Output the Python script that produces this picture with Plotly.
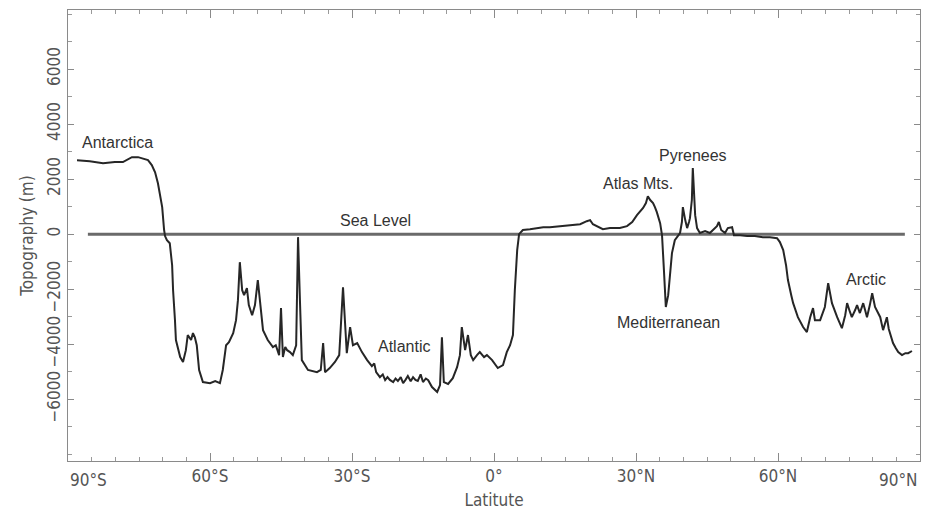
import plotly.graph_objects as go

# Topographic transect (latitude in degrees, negative = south; elevation in m)
lat = [-88.1, -85.4, -82.6, -80.1, -78.4, -76.5, -75.2, -74.2, -73.1, -72.3, -71.6, -71.0, -70.6, -70.1,
       -69.7, -69.5, -69.1, -68.5, -68.0, -67.8, -67.4, -67.2, -66.3, -65.7, -65.1, -64.7, -64.0, -63.6,
       -63.2, -62.8, -62.3, -61.5, -60.0, -58.9, -57.9, -57.3, -56.6, -56.0, -55.1, -54.5, -54.1, -53.7,
       -53.2, -52.8, -52.2, -51.8, -51.1, -50.5, -49.9, -49.4, -48.8, -47.8, -46.7, -46.1, -45.4, -45.0,
       -44.6, -44.1, -43.7, -43.1, -42.5, -41.8, -41.4, -41.0, -40.6, -39.3, -37.4, -36.6, -36.1, -35.7, -34.7,
       -33.6, -32.7, -31.9, -31.3, -31.1, -30.4, -29.8, -28.9, -27.9, -26.8, -25.8, -25.3, -24.9, -24.1, -23.5,
       -23.0, -22.5, -22.0, -21.3, -20.8, -20.3, -19.7, -19.2, -18.7, -18.2, -17.6, -17.1, -16.6, -16.1,
       -15.5, -15.0, -14.4, -13.9, -13.1, -12.0, -11.4, -11.0, -10.6,
       -9.7, -8.7, -7.8, -7.2, -6.8, -6.1, -5.5, -4.9, -4.4, -3.6, -3.0, -2.1, -1.5, -0.4, 0.4, 0.8, 1.9,
       2.7, 3.4, 4.0, 4.4, 4.9, 5.3, 6.1, 7.6, 9.1, 10.4, 11.8, 13.9, 16.1, 18.2, 19.6, 20.3, 20.9, 22.0,
       23.0, 24.5, 26.6, 28.1, 29.2, 30.2, 30.8, 31.5, 32.1, 32.5, 33.0, 33.6, 34.0, 34.4, 35.1, 35.5, 35.9,
       36.3, 36.8, 37.2, 37.6, 38.2, 38.7, 39.3, 39.7, 39.9, 40.4, 40.8, 41.2, 41.4, 41.8, 42.0, 42.5, 42.9,
       43.5, 44.6, 45.6, 46.3, 47.1, 47.5, 48.0, 48.8, 49.4, 50.3, 50.7, 52.0, 53.5, 55.1, 56.8, 58.3, 59.8,
       60.4, 61.1, 61.7, 62.1, 62.8, 63.2, 64.2, 65.3, 66.1, 66.8, 67.4, 67.8, 68.9, 69.5, 69.9, 70.6, 71.0,
       71.4, 72.5, 73.5, 74.2, 74.6, 75.2, 75.6, 76.3, 76.7, 77.3, 78.0, 78.4, 78.8, 79.4, 79.9, 80.5, 81.1,
       81.6, 82.2, 82.6, 83.0, 83.4, 83.7, 84.3, 84.9, 85.4, 86.2, 86.9, 87.5, 88.3]
elev = [2690, 2650, 2580, 2620, 2620, 2800, 2800, 2760, 2690, 2510, 2250, 1850, 1490, 980,
        150, -70, -220, -330, -1130, -2040, -3130, -3850, -4470, -4650, -4220, -3670, -3850, -3600,
        -3750, -4040, -4940, -5380, -5420, -5340, -5420, -4940, -4040, -3930, -3600, -3130, -2400, -1020,
        -2040, -2220, -1960, -2580, -2950, -2580, -1670, -2400, -3490, -3850, -4110, -4040, -4400, -2690,
        -4470, -4100, -4220, -4290, -4400, -4040, -110, -2400, -4580, -4940, -5020, -4940, -3960, -5020, -4870,
        -4650, -4400, -1930, -3490, -4330, -3380, -4040, -3960, -4290, -4580, -4800, -4700, -5020, -5200, -5100,
        -5310, -5200, -5300, -5380, -5250, -5340, -5200, -5420, -5300, -5160, -5350, -5200, -5300, -5340,
        -5100, -5380, -5250, -5310, -5560, -5740, -5490, -3750, -5380,
        -5450, -5240, -4840, -4400, -3380, -4220, -3670, -4400, -4580, -4400, -4290, -4470, -4400, -4580, -4800, -4870, -4760,
        -4290, -4040, -3670, -2040, -580, 0, 150, 180, 220, 250, 250, 290, 330, 360, 470, 510, 360, 250,
        180, 220, 220, 290, 440, 690, 800, 950, 1130, 1380, 1240, 1130, 980, 800, 400, -40, -1310,
        -2650, -2220, -1310, -690, -220, -110, 40, 440, 980, 510, 220, 440, 580, 1240, 2400, 690, 220,
        40, 110, 40, 150, 290, 440, 150, 40, 220, 250, -40, -40, -70, -70, -110, -110, -150,
        -290, -580, -1130, -1670, -2220, -2510, -3020, -3380, -3560, -3020, -2690, -3130, -3130, -2870, -2650, -1780, -2220,
        -2510, -3020, -3420, -2950, -2510, -2830, -3020, -2760, -2580, -2870, -2510, -2760, -3020, -2580, -2150, -2650, -2830,
        -3020, -3490, -3200, -3020, -3450, -3600, -3960, -4150, -4290, -4400, -4330, -4330, -4250]

sea_lat = [-85.8, 86.8]
sea_elev = [0, 0]

x_tickvals = [-90, -60, -30, 0, 30, 60, 90]
x_ticktext = ["", "60°S", "30°S", "0°", "30°N", "60°N", ""]
edge_lat = [-90, 90]
edge_text = ["90°S", "90°N"]

y_tickvals = [-6000, -4000, -2000, 0, 2000, 4000, 6000]
y_ticktext = ["\u22126000", "\u22124000", "\u22122000", "0", "2000", "4000", "6000"]

label_text = ["Antarctica", "Sea Level", "Atlantic", "Atlas Mts.", "Pyrenees", "Mediterranean", "Arctic"]
label_lat = [-87.5, -25.1, -19.0, 30.4, 42.0, 36.8, 78.6]
label_elev = [3350, 510, -4070, 1850, 2870, -3200, -1640]
label_anchor = ["left", "center", "center", "center", "center", "center", "center"]

AX_FONT = "Liberation Sans Narrow, Arial Narrow, DejaVu Sans Condensed, sans-serif"
TXT_FONT = "Liberation Sans, Arial, Helvetica, sans-serif"

fig = go.Figure()
fig.add_trace(go.Scatter(x=sea_lat, y=sea_elev, mode="lines",
                         line=dict(color="#6a6a6a", width=3), hoverinfo="skip", showlegend=False))
fig.add_trace(go.Scatter(x=lat, y=elev, mode="lines",
                         line=dict(color="#262626", width=2), showlegend=False))

for t, x, y, a in zip(label_text, label_lat, label_elev, label_anchor):
    fig.add_annotation(x=x, y=y, text=t, showarrow=False, xanchor=a, yanchor="middle",
                       font=dict(family=TXT_FONT, size=16, color="#333333"))

for x, t, a in zip(edge_lat, edge_text, ["left", "right"]):
    fig.add_annotation(x=x, xref="x", y=0, yref="paper", yshift=-7, text=t, showarrow=False,
                       xanchor=a, yanchor="top",
                       font=dict(family=AX_FONT, size=17, color="#555555"))

fig.update_layout(
    width=935, height=517,
    margin=dict(l=68, r=15, t=10, b=56),
    paper_bgcolor="white", plot_bgcolor="white",
    showlegend=False,
)
fig.update_xaxes(
    range=[-90, 90], tickvals=x_tickvals, ticktext=x_ticktext,
    ticks="inside", ticklen=8, tickcolor="#8a8a8a", tickwidth=1,
    minor=dict(dtick=5, ticks="inside", ticklen=4, tickcolor="#9a9a9a"),
    showline=True, linecolor="#8a8a8a", linewidth=1, mirror="ticks",
    showgrid=False, zeroline=False,
    tickfont=dict(family=AX_FONT, size=17, color="#555555"),
    title=dict(text="Latitute", font=dict(family=AX_FONT, size=17, color="#555555"), standoff=8),
)
fig.update_yaxes(
    range=[-8250, 8150], tickvals=y_tickvals, ticktext=y_ticktext, tickangle=-90,
    ticks="inside", ticklen=6, tickcolor="#8a8a8a", tickwidth=1,
    minor=dict(dtick=1000, ticks="inside", ticklen=4, tickcolor="#9a9a9a"),
    showline=True, linecolor="#8a8a8a", linewidth=1, mirror="ticks",
    showgrid=False, zeroline=False,
    tickfont=dict(family=AX_FONT, size=17, color="#555555"),
    title=dict(text="Topography (m)", font=dict(family=AX_FONT, size=17, color="#555555"), standoff=6),
)

fig.write_html("out.html")
